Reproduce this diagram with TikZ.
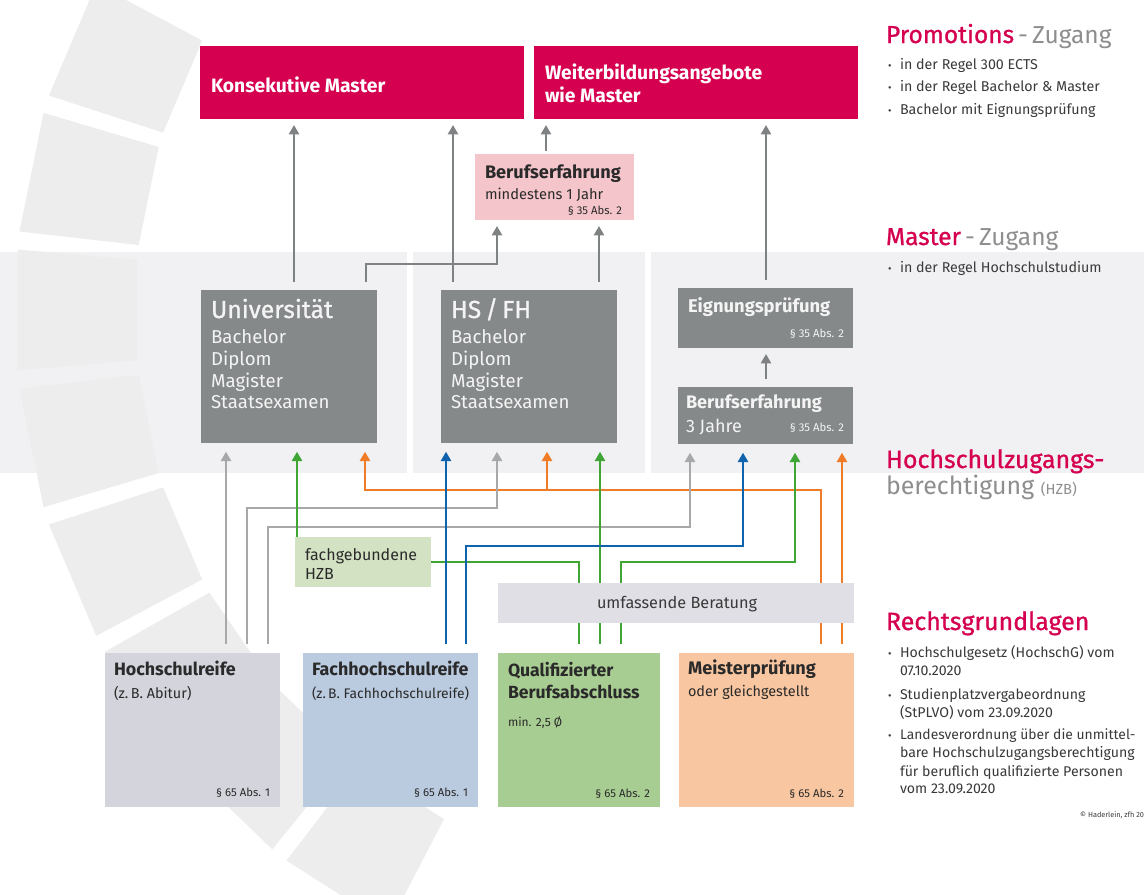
\documentclass[tikz,border=0pt]{standalone}
\usepackage{fontspec}
\setmainfont{Fira Sans}
\newfontfamily\medfont{Fira Sans}[FakeBold=0.9]
\usetikzlibrary{arrows.meta,fit}
\definecolor{mag}{HTML}{D5004F}
\definecolor{boxgray}{HTML}{85898A}
\definecolor{argray}{HTML}{7E8283}
\definecolor{ltgray}{HTML}{A6A8AA}
\definecolor{cgreen}{HTML}{3FA535}
\definecolor{cblue}{HTML}{0F63AD}
\definecolor{corange}{HTML}{F07C28}
\definecolor{pinkbox}{HTML}{F4C5CA}
\definecolor{fachbox}{HTML}{D3E2C3}
\definecolor{hrbox}{HTML}{D3D4DC}
\definecolor{fhrbox}{HTML}{BACADF}
\definecolor{qbox}{HTML}{A8CD92}
\definecolor{mbox}{HTML}{F8C6A0}
\definecolor{berbox}{HTML}{DFDFE5}
\definecolor{bandc}{HTML}{F1F1F4}
\definecolor{wheelc}{HTML}{EDEDEE}
\definecolor{hgray}{HTML}{8E8E8E}
\definecolor{bodytxt}{HTML}{3A3A3A}
\definecolor{darktxt}{HTML}{2A2A2A}
\definecolor{wtxt}{HTML}{F4F4F4}
\newcommand\fs[2]{\fontsize{#1}{#2}\selectfont}
\tikzset{
  bx/.style={rectangle, inner sep=0pt, outer sep=0pt, draw=none},
  tx/.style={anchor=base west, inner sep=0pt, outer sep=0pt},
  txr/.style={anchor=base east, inner sep=0pt, outer sep=0pt},
  tipa/.style={-{Triangle[length=7pt,width=7.5pt]}},
  topar/.style={draw=argray, line width=2.1pt, tipa, shorten <=6pt, shorten >=4.5pt},
  botln/.style={line width=2pt, shorten <=7pt},
  botar/.style={line width=2pt, tipa, shorten <=7pt, shorten >=6.5pt},
  brar/.style={line width=2pt, tipa, shorten >=6.5pt},
  parag/.style={txr, font=\fs{8.5}{10}},
}
\begin{document}
\begin{tikzpicture}[x=0.75pt,y=-0.75pt]
\useasboundingbox (0,0) rectangle (1144,894);
\fill[white] (0,0) rectangle (1144,894);
% band
\fill[bandc] (0,252) rectangle (1144,473);
\fill[white] (407,252) rectangle (413,473);
\fill[white] (645,252) rectangle (651,473);
% wheel
\begin{scope}[shift={(709,310)}]
\foreach \a in {203,191.5,180,168.5,157,145.5,134,122.5}{
  \fill[wheelc] (\a-5:574) -- (\a-5:694) -- (\a+5:694) -- (\a+5:574) -- cycle;
}
\end{scope}
% boxes
\node[bx, fill=mag, fit={(200,46) (524,119)}] (kons) {};
\node[bx, fill=mag, fit={(534,46) (858,119)}] (weit) {};
\node[bx, fill=pinkbox, fit={(475,154) (634,220)}] (pink) {};
\node[bx, fill=boxgray, fit={(201,290) (377,443)}] (uni) {};
\node[bx, fill=boxgray, fit={(441,290) (617,443)}] (hsfh) {};
\node[bx, fill=boxgray, fit={(678,288) (853,348)}] (eign) {};
\node[bx, fill=boxgray, fit={(678,387) (853,444)}] (ber3) {};
\node[bx, fill=fachbox, fit={(295,537) (431,587)}] (fach) {};
\node[bx, fill=hrbox, fit={(105,653) (280,807)}] (hr) {};
\node[bx, fill=fhrbox, fit={(303,653) (478,807)}] (fhr) {};
\node[bx, fill=qbox, fit={(498,653) (660,807)}] (qual) {};
\node[bx, fill=mbox, fit={(679,653) (854,807)}] (meis) {};
% x / y guides
\coordinate (xa) at (294,0); \coordinate (xb) at (453,0);
\coordinate (xc) at (546,0); \coordinate (xd) at (766,0);
\coordinate (xe) at (366,0); \coordinate (xf) at (497,0);
\coordinate (xg) at (599,0); \coordinate (yUP) at (0,264);
\coordinate (g1) at (226,0); \coordinate (g2) at (247,0); \coordinate (g3) at (268,0);
\coordinate (gHS) at (497,0); \coordinate (gBE) at (690,0);
\coordinate (gr1) at (297,0); \coordinate (q1) at (579,0); \coordinate (q2) at (600,0);
\coordinate (q3) at (621,0); \coordinate (grBE) at (795,0);
\coordinate (b1) at (446,0); \coordinate (b2) at (466,0); \coordinate (bBE) at (743,0);
\coordinate (o1) at (821,0); \coordinate (o2) at (842,0);
\coordinate (oU) at (365,0); \coordinate (oH) at (547,0);
\coordinate (yO) at (0,490); \coordinate (yG2) at (0,508); \coordinate (yG3) at (0,527);
\coordinate (yB2) at (0,546); \coordinate (yGr) at (0,562);
% top connectors
\draw[topar] (uni.north -| xe) |- (xf |- yUP) -- (pink.south -| xf);
\draw[topar] (uni.north -| xa) -- (kons.south -| xa);
\draw[topar] (hsfh.north -| xb) -- (kons.south -| xb);
\draw[topar, shorten <=2pt] (pink.north -| xc) -- (weit.south -| xc);
\draw[topar] (eign.north -| xd) -- (weit.south -| xd);
\draw[topar] (hsfh.north -| xg) -- (pink.south -| xg);
\draw[topar] (ber3.north -| xd) -- (eign.south -| xd);
% bottom connectors
\draw[botar, draw=corange] (meis.north -| o1) |- (oU |- yO) -- (uni.south -| oU);
\draw[brar, draw=corange] (oH |- yO) -- (hsfh.south -| oH);
\draw[botar, draw=corange] (meis.north -| o2) -- (ber3.south -| o2);
\draw[botar, draw=ltgray] (hr.north -| g1) -- (uni.south -| g1);
\draw[botar, draw=ltgray] (hr.north -| g2) |- (gHS |- yG2) -- (hsfh.south -| gHS);
\draw[botar, draw=ltgray] (hr.north -| g3) |- (gBE |- yG3) -- (ber3.south -| gBE);
\draw[brar, draw=cgreen] (fach.north -| gr1) -- (uni.south -| gr1);
\draw[botln, draw=cgreen] (qual.north -| q1) |- (fach.east);
\draw[botar, draw=cgreen] (qual.north -| q2) -- (hsfh.south -| q2);
\draw[botar, draw=cgreen] (qual.north -| q3) |- (grBE |- yGr) -- (ber3.south -| grBE);
\draw[botar, draw=cblue] (fhr.north -| b1) -- (hsfh.south -| b1);
\draw[botar, draw=cblue] (fhr.north -| b2) |- (bBE |- yB2) -- (ber3.south -| bBE);
% Beratung box on top of lines
\node[bx, fill=berbox, fit={(498,583) (854,623)}] (ber) {};
% texts in boxes
\node[tx, font=\fs{14.5}{16}\bfseries, text=white] (tkons) at (211,92) {Konsekutive Master};
\node[tx, font=\fs{14.5}{16}\bfseries, text=white] (tweit1) at (545,79) {Weiterbildungsangebote};
\node[tx, font=\fs{14.5}{16}\bfseries, text=white] (tweit2) at (545,102) {wie Master};
\node[tx, font=\fs{13.6}{15}\bfseries, text=darktxt] (tp1) at (485,178) {Berufserfahrung};
\node[tx, font=\fs{11}{13}, text=darktxt] (tp2) at (485,199) {mindestens 1 Jahr};
\node[parag, text=darktxt] (tp3) at (622,214) {§ 35 Abs. 2};
\node[tx, font=\fs{18.5}{20}\medfont, text=wtxt] (tu0) at (211,318) {Universität};
\node[tx, font=\fs{14}{16}, text=wtxt] (tu1) at (211,343) {Bachelor};
\node[tx, font=\fs{14}{16}, text=wtxt] (tu2) at (211,365) {Diplom};
\node[tx, font=\fs{14}{16}, text=wtxt] (tu3) at (211,387) {Magister};
\node[tx, font=\fs{14}{16}, text=wtxt] (tu4) at (211,408) {Staatsexamen};
\node[tx, font=\fs{18.5}{20}\medfont, text=wtxt] (th0) at (451,318) {HS\,/\,FH};
\node[tx, font=\fs{14}{16}, text=wtxt] (th1) at (451,343) {Bachelor};
\node[tx, font=\fs{14}{16}, text=wtxt] (th2) at (451,365) {Diplom};
\node[tx, font=\fs{14}{16}, text=wtxt] (th3) at (451,387) {Magister};
\node[tx, font=\fs{14}{16}, text=wtxt] (th4) at (451,408) {Staatsexamen};
\node[tx, font=\fs{13.8}{15}\bfseries, text=wtxt] (te1) at (688,312) {Eignungsprüfung};
\node[parag, text=wtxt] (te2) at (844,337) {§ 35 Abs. 2};
\node[tx, font=\fs{13.6}{15}\bfseries, text=wtxt] (tb1) at (686,408) {Berufserfahrung};
\node[tx, font=\fs{13.5}{15}, text=wtxt] (tb2) at (686,432) {3 Jahre};
\node[parag, text=wtxt] (tb3) at (844,431) {§ 35 Abs. 2};
\node[tx, font=\fs{12}{14}, text=darktxt] (tf1) at (305,560) {fachgebundene};
\node[tx, font=\fs{12}{14}, text=darktxt] (tf2) at (305,579) {HZB};
\node[tx, font=\fs{12.2}{14}, text=bodytxt] (tber) at (597,608) {umfassende Beratung};
\node[tx, font=\fs{13.4}{15}\bfseries, text=darktxt] (thr1) at (114,675) {Hochschulreife};
\node[tx, font=\fs{10.8}{12}, text=darktxt] (thr2) at (114,698) {(z.\,B. Abitur)};
\node[parag, text=darktxt] (thr3) at (270,796) {§ 65 Abs. 1};
\node[tx, font=\fs{13.4}{15}\bfseries, text=darktxt] (tfh1) at (312,675) {Fachhochschulreife};
\node[tx, font=\fs{10.4}{12}, text=darktxt] (tfh2) at (312,698) {(z.\,B. Fachhochschulreife)};
\node[parag, text=darktxt] (tfh3) at (468,796) {§ 65 Abs. 1};
\node[tx, font=\fs{13.2}{15}\bfseries, text=darktxt] (tq1) at (508,676) {Qualifizierter};
\node[tx, font=\fs{13.2}{15}\bfseries, text=darktxt] (tq2) at (508,698) {Berufsabschluss};
\node[tx, font=\fs{9}{10}, text=darktxt] (tq3) at (508,726) {min. 2,5 Ø};
\node[parag, text=darktxt] (tq4) at (650,797) {§ 65 Abs. 2};
\node[tx, font=\fs{13.6}{15}\bfseries, text=darktxt] (tm1) at (688,674) {Meisterprüfung};
\node[tx, font=\fs{10.8}{12}, text=darktxt] (tm2) at (688,696) {oder gleichgestellt};
\node[parag, text=darktxt] (tm3) at (844,797) {§ 65 Abs. 2};
% right column
\node[tx, font=\fs{18.4}{20}] (rh1) at (886,43) {\textcolor{mag}{\medfont Promotions}\textcolor{hgray}{\,-\,Zugang}};
\node[tx, font=\fs{8}{10}, text=bodytxt] (rb1) at (888,69) {•};
\node[tx, font=\fs{10.7}{12}, text=bodytxt] (rt1) at (900,69) {in der Regel 300 ECTS};
\node[tx, font=\fs{8}{10}, text=bodytxt] (rb2) at (888,91) {•};
\node[tx, font=\fs{10.7}{12}, text=bodytxt] (rt2) at (900,91) {in der Regel Bachelor \& Master};
\node[tx, font=\fs{8}{10}, text=bodytxt] (rb3) at (888,114) {•};
\node[tx, font=\fs{10.7}{12}, text=bodytxt] (rt3) at (900,114) {Bachelor mit Eignungsprüfung};
\node[tx, font=\fs{18.4}{20}] (rh2) at (886,245) {\textcolor{mag}{\medfont Master}\textcolor{hgray}{\,-\,Zugang}};
\node[tx, font=\fs{8}{10}, text=bodytxt] (rb4) at (888,272) {•};
\node[tx, font=\fs{10.7}{12}, text=bodytxt] (rt4) at (900,272) {in der Regel Hochschulstudium};
\node[tx, font=\fs{18.7}{20}\medfont, text=mag] (rh3) at (886,468) {Hochschulzugangs-};
\node[tx, font=\fs{18.7}{20}, text=hgray] (rh4) at (886,494) {berechtigung \fs{11}{12}(HZB)};
\node[tx, font=\fs{18.7}{20}\medfont, text=mag] (rh5) at (886,630) {Rechtsgrundlagen};
\node[tx, font=\fs{8}{10}, text=bodytxt] (rb5) at (888,657) {•};
\node[tx, font=\fs{10.6}{13}, text=bodytxt] (rl1) at (900,657) {Hochschulgesetz (HochschG) vom};
\node[tx, font=\fs{10.6}{13}, text=bodytxt] (rl2) at (900,675) {07.10.2020};
\node[tx, font=\fs{8}{10}, text=bodytxt] (rb6) at (888,699) {•};
\node[tx, font=\fs{10.6}{13}, text=bodytxt] (rl3) at (900,699) {Studienplatzvergabeordnung};
\node[tx, font=\fs{10.6}{13}, text=bodytxt] (rl4) at (900,717) {(StPLVO) vom 23.09.2020};
\node[tx, font=\fs{8}{10}, text=bodytxt] (rb7) at (888,739) {•};
\node[tx, font=\fs{10.4}{13}, text=bodytxt] (rl5) at (900,739) {Landesverordnung über die unmittel-};
\node[tx, font=\fs{10.6}{13}, text=bodytxt] (rl6) at (900,757) {bare Hochschulzugangsberechtigung};
\node[tx, font=\fs{10.6}{13}, text=bodytxt] (rl7) at (900,776) {für beruflich qualifizierte Personen};
\node[tx, font=\fs{10.6}{13}, text=bodytxt] (rl8) at (900,793) {vom 23.09.2020};
\node[txr, font=\fs{5.5}{7}, text=bodytxt] (rc) at (1144,817) {© Haderlein, zfh 20};
\end{tikzpicture}
\end{document}
